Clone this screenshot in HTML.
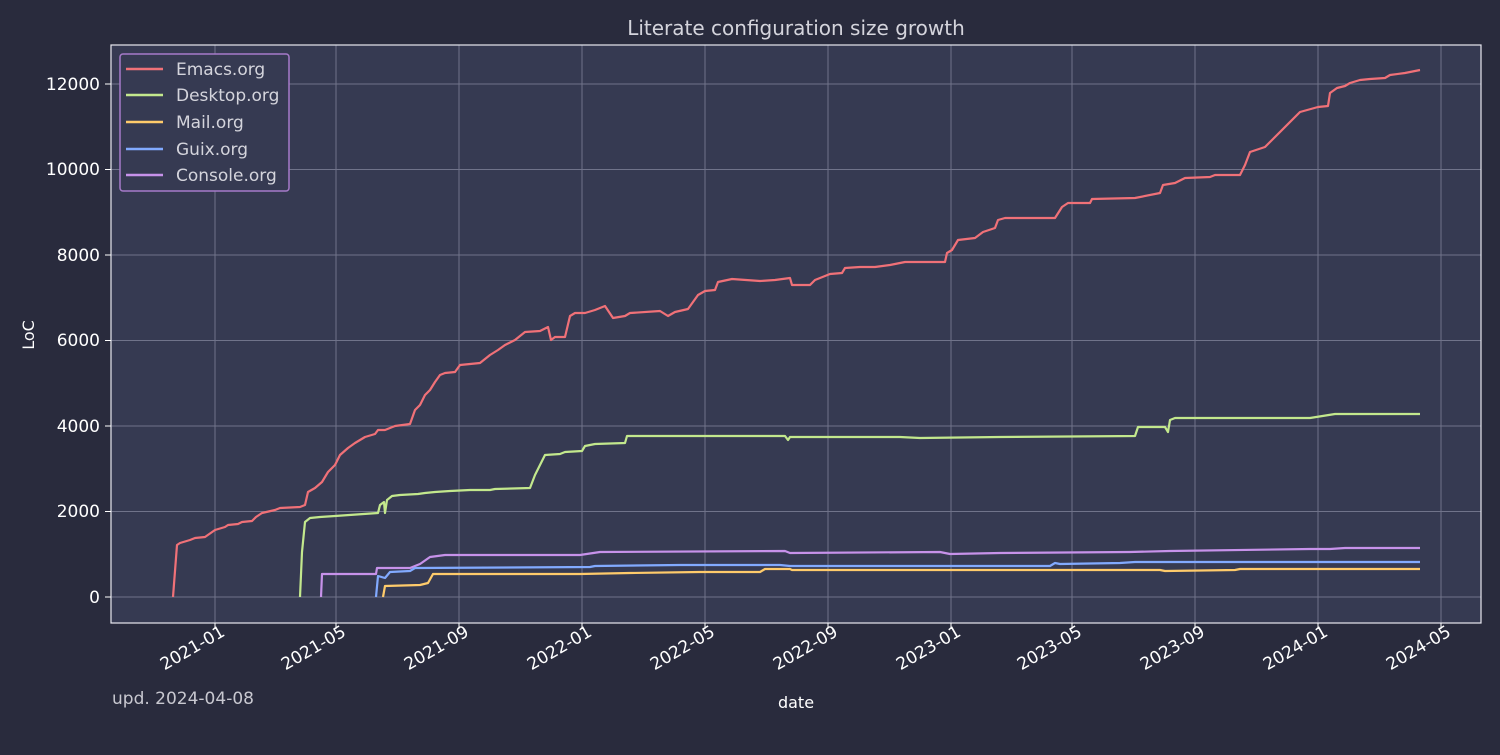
<!DOCTYPE html>
<html><head><meta charset="utf-8"><style>html,body{margin:0;background:#292b3d}</style></head><body>
<svg width="1500" height="750" xmlns="http://www.w3.org/2000/svg" font-family="'DejaVu Sans','Liberation Sans',sans-serif">
<rect width="1500" height="750" fill="#292b3d"/>
<rect x="111" y="45" width="1370" height="578" fill="#363a52"/>
<g stroke="#7f8299" stroke-width="1" opacity="0.8">
<line x1="215" y1="45" x2="215" y2="623"/><line x1="336" y1="45" x2="336" y2="623"/><line x1="459" y1="45" x2="459" y2="623"/><line x1="582" y1="45" x2="582" y2="623"/><line x1="705" y1="45" x2="705" y2="623"/><line x1="828" y1="45" x2="828" y2="623"/><line x1="951" y1="45" x2="951" y2="623"/><line x1="1072" y1="45" x2="1072" y2="623"/><line x1="1195" y1="45" x2="1195" y2="623"/><line x1="1318" y1="45" x2="1318" y2="623"/><line x1="1441" y1="45" x2="1441" y2="623"/>
<line x1="111" y1="597" x2="1481" y2="597"/><line x1="111" y1="511.5" x2="1481" y2="511.5"/><line x1="111" y1="426" x2="1481" y2="426"/><line x1="111" y1="340.5" x2="1481" y2="340.5"/><line x1="111" y1="255" x2="1481" y2="255"/><line x1="111" y1="169.5" x2="1481" y2="169.5"/><line x1="111" y1="84" x2="1481" y2="84"/>
</g>
<rect x="111" y="45" width="1370" height="578" fill="none" stroke="#e8e8f0" stroke-width="1.2"/>
<g stroke="#ffffff" stroke-width="1">
<line x1="105" y1="597" x2="111" y2="597"/><line x1="105" y1="511.5" x2="111" y2="511.5"/><line x1="105" y1="426" x2="111" y2="426"/><line x1="105" y1="340.5" x2="111" y2="340.5"/><line x1="105" y1="255" x2="111" y2="255"/><line x1="105" y1="169.5" x2="111" y2="169.5"/><line x1="105" y1="84" x2="111" y2="84"/>
<line x1="215" y1="623" x2="215" y2="629"/><line x1="336" y1="623" x2="336" y2="629"/><line x1="459" y1="623" x2="459" y2="629"/><line x1="582" y1="623" x2="582" y2="629"/><line x1="705" y1="623" x2="705" y2="629"/><line x1="828" y1="623" x2="828" y2="629"/><line x1="951" y1="623" x2="951" y2="629"/><line x1="1072" y1="623" x2="1072" y2="629"/><line x1="1195" y1="623" x2="1195" y2="629"/><line x1="1318" y1="623" x2="1318" y2="629"/><line x1="1441" y1="623" x2="1441" y2="629"/>
</g>
<g fill="#ffffff" font-size="17" text-anchor="end">
<text x="100" y="603">0</text><text x="100" y="517">2000</text><text x="100" y="432">4000</text><text x="100" y="346">6000</text><text x="100" y="261">8000</text><text x="100" y="175">10000</text><text x="100" y="90">12000</text>
</g>
<g fill="#ffffff" font-size="17" text-anchor="end">
<text transform="translate(226,635) rotate(-30)">2021-01</text>
<text transform="translate(347,635) rotate(-30)">2021-05</text>
<text transform="translate(470,635) rotate(-30)">2021-09</text>
<text transform="translate(593,635) rotate(-30)">2022-01</text>
<text transform="translate(716,635) rotate(-30)">2022-05</text>
<text transform="translate(839,635) rotate(-30)">2022-09</text>
<text transform="translate(962,635) rotate(-30)">2023-01</text>
<text transform="translate(1083,635) rotate(-30)">2023-05</text>
<text transform="translate(1206,635) rotate(-30)">2023-09</text>
<text transform="translate(1329,635) rotate(-30)">2024-01</text>
<text transform="translate(1452,635) rotate(-30)">2024-05</text>
</g>
<text x="796" y="35" fill="#d4d4dc" font-size="20" text-anchor="middle">Literate configuration size growth</text>
<text x="796" y="708" fill="#ffffff" font-size="16" text-anchor="middle">date</text>
<text transform="translate(34,335) rotate(-90)" fill="#ffffff" font-size="16" text-anchor="middle">LoC</text>
<text x="112" y="704" fill="#c8c8d0" font-size="17">upd. 2024-04-08</text>
<g fill="none" stroke-width="2.2" stroke-linejoin="round">
<polyline stroke="#c792ea" points="321,597 322,574 376,574 377,568 410,568 420,564 430,557 445,555 500,555 580,555 600,552 785,551 790,553 940,552 950,554 1000,553 1130,552 1170,551 1310,549 1330,549 1345,548 1420,548"/>
<polyline stroke="#82aaff" points="376,597 378,576 385,578 390,572 410,571 415,568 590,567 595,566 680,565 780,565 790,566 1050,566 1055,563 1060,564 1120,563 1135,562 1420,562"/>
<polyline stroke="#ffcb6b" points="383,597 385,586 420,585 428,583 433,574 440,574 580,574 630,573 700,572 760,572 765,569 790,569 792,570 950,570 1160,570 1165,571 1235,570 1240,569 1420,569"/>
<polyline stroke="#c3e88d" points="300,597 302,552 305,522 310,518 320,517 335,516 378,513 380,505 384,502 385,513 387,500 392,496 400,495 418,494 425,493 435,492 450,491 470,490 490,490 495,489 530,488 535,475 540,465 545,455 560,454 565,452 582,451 585,446 595,444 625,443 627,436 700,436 785,436 788,440 790,437 900,437 920,438 1000,437 1135,436 1138,427 1165,427 1168,432 1170,420 1175,418 1310,418 1335,414 1420,414"/>
<polyline stroke="#f07178" points="173,597 177,545 180,543 190,540 195,538 205,537 215,530 225,527 228,525 238,524 242,522 252,521 256,517 262,513 275,510 280,508 300,507 305,505 308,492 315,488 322,482 328,472 335,465 340,455 348,448 355,443 365,437 375,434 378,430 385,430 395,426 410,424 415,410 420,405 425,395 430,390 435,382 440,375 445,373 455,372 460,365 480,363 490,355 498,350 505,345 515,340 525,332 540,331 548,327 551,340 555,337 565,337 570,316 575,313 585,313 595,310 605,306 613,318 625,316 630,313 660,311 668,316 675,312 688,309 698,295 705,291 715,290 718,282 732,279 760,281 775,280 790,278 792,285 810,285 815,280 830,274 842,273 845,268 860,267 875,267 890,265 905,262 945,262 947,253 952,250 958,240 975,238 983,232 995,228 998,220 1005,218 1055,218 1062,207 1068,203 1090,203 1092,199 1135,198 1160,193 1163,185 1175,183 1185,178 1210,177 1215,175 1240,175 1245,165 1250,152 1265,147 1300,112 1318,107 1328,106 1330,93 1337,88 1345,86 1350,83 1360,80 1370,79 1385,78 1390,75 1405,73 1420,70"/>
</g>
<rect x="120" y="54" width="169" height="137" rx="3" fill="#363a52" stroke="#a67bc9" stroke-width="1.5"/>
<g stroke-width="2.5">
<line x1="126" y1="69" x2="163" y2="69" stroke="#f07178"/>
<line x1="126" y1="95" x2="163" y2="95" stroke="#c3e88d"/>
<line x1="126" y1="122" x2="163" y2="122" stroke="#ffcb6b"/>
<line x1="126" y1="149" x2="163" y2="149" stroke="#82aaff"/>
<line x1="126" y1="175" x2="163" y2="175" stroke="#c792ea"/>
</g>
<g fill="#d4d4dc" font-size="17">
<text x="176" y="75">Emacs.org</text><text x="176" y="101">Desktop.org</text><text x="176" y="128">Mail.org</text><text x="176" y="155">Guix.org</text><text x="176" y="181">Console.org</text>
</g>
</svg>
</body></html>
